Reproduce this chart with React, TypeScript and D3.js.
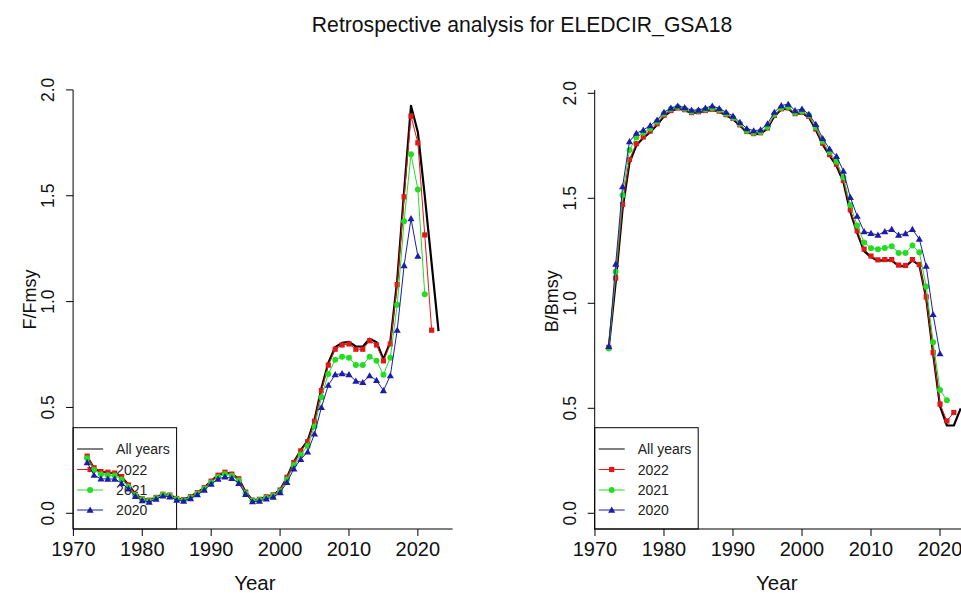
import React from "react";
import * as d3 from "d3";

const yearsAll = [1972,1973,1974,1975,1976,1977,1978,1979,1980,1981,1982,1983,1984,1985,1986,1987,1988,1989,1990,1991,1992,1993,1994,1995,1996,1997,1998,1999,2000,2001,2002,2003,2004,2005,2006,2007,2008,2009,2010,2011,2012,2013,2014,2015,2016,2017,2018,2019,2020,2021,2022,2023];

// F/Fmsy
const fAll = [0.268,0.212,0.196,0.193,0.189,0.172,0.135,0.09,0.068,0.062,0.075,0.09,0.086,0.07,0.065,0.079,0.098,0.121,0.152,0.18,0.194,0.185,0.163,0.1,0.062,0.066,0.078,0.087,0.11,0.17,0.242,0.298,0.342,0.442,0.59,0.71,0.785,0.805,0.81,0.788,0.787,0.825,0.808,0.728,0.81,1.1,1.52,1.925,1.8,1.5,1.18,0.86];
const f2022 = [0.27,0.215,0.197,0.194,0.19,0.173,0.134,0.09,0.068,0.062,0.075,0.09,0.086,0.07,0.065,0.079,0.098,0.121,0.152,0.18,0.194,0.185,0.163,0.1,0.062,0.066,0.078,0.087,0.11,0.17,0.24,0.295,0.338,0.435,0.58,0.7,0.775,0.795,0.8,0.775,0.775,0.815,0.795,0.72,0.8,1.08,1.495,1.876,1.75,1.315,0.865];
const f2021 = [0.26,0.205,0.185,0.18,0.178,0.16,0.125,0.085,0.065,0.058,0.072,0.087,0.083,0.067,0.062,0.075,0.094,0.116,0.146,0.172,0.186,0.177,0.155,0.095,0.06,0.063,0.074,0.083,0.104,0.16,0.228,0.278,0.318,0.41,0.548,0.658,0.725,0.74,0.735,0.7,0.7,0.74,0.72,0.655,0.735,0.985,1.38,1.696,1.53,1.035];
const f2020 = [0.24,0.18,0.163,0.162,0.162,0.142,0.115,0.08,0.06,0.053,0.067,0.082,0.078,0.062,0.058,0.07,0.088,0.11,0.138,0.162,0.172,0.165,0.142,0.09,0.055,0.058,0.068,0.077,0.098,0.146,0.21,0.255,0.29,0.375,0.5,0.605,0.655,0.66,0.655,0.625,0.618,0.65,0.628,0.58,0.65,0.865,1.17,1.392,1.215];

// B/Bmsy
const bAll = [0.79,1.1,1.45,1.67,1.752,1.788,1.815,1.85,1.89,1.915,1.928,1.92,1.905,1.91,1.915,1.922,1.912,1.895,1.877,1.847,1.815,1.805,1.808,1.832,1.892,1.923,1.927,1.9,1.907,1.886,1.826,1.757,1.703,1.655,1.578,1.435,1.335,1.248,1.22,1.203,1.204,1.204,1.178,1.176,1.204,1.182,1.025,0.76,0.51,0.418,0.418,0.5];
const b2022 = [0.79,1.12,1.47,1.685,1.76,1.792,1.82,1.855,1.895,1.918,1.93,1.922,1.908,1.912,1.918,1.924,1.915,1.898,1.88,1.85,1.818,1.808,1.812,1.835,1.895,1.926,1.93,1.903,1.91,1.89,1.83,1.762,1.708,1.662,1.585,1.445,1.345,1.258,1.225,1.207,1.208,1.208,1.182,1.18,1.208,1.185,1.03,0.765,0.52,0.44,0.48];
const b2021 = [0.785,1.15,1.515,1.73,1.79,1.812,1.832,1.865,1.903,1.925,1.935,1.927,1.913,1.917,1.923,1.93,1.92,1.903,1.884,1.855,1.822,1.812,1.816,1.84,1.9,1.93,1.935,1.907,1.915,1.895,1.838,1.772,1.72,1.675,1.6,1.468,1.37,1.29,1.262,1.257,1.263,1.272,1.24,1.24,1.275,1.243,1.08,0.815,0.587,0.538];
const b2020 = [0.795,1.187,1.556,1.77,1.81,1.825,1.846,1.873,1.91,1.93,1.94,1.932,1.92,1.92,1.93,1.94,1.928,1.91,1.892,1.862,1.832,1.822,1.826,1.855,1.91,1.942,1.948,1.918,1.925,1.9,1.852,1.785,1.735,1.7,1.63,1.505,1.415,1.342,1.333,1.325,1.342,1.352,1.325,1.332,1.352,1.306,1.177,0.947,0.76];

const xTicks = [1970,1980,1990,2000,2010,2020];
const yTicks = [0,0.5,1,1.5,2];
const yTickLabels = ["0.0","0.5","1.0","1.5","2.0"];
const legendLabels = ["All years","2022","2021","2020"];
const seriesColors = ["#000000","#e01818","#22dd22","#1c1ca8"];
const seriesMarkers = ["none","square","circle","triangle"];

const FONT = "'Liberation Sans', Arial, Helvetica, sans-serif";

type PanelProps = {
  left: number;
  right: number;
  yDomain: [number, number];
  ylabel: string;
  data: number[][];
};

const TOP = 90;
const BOTTOM = 529;

function Marker({ kind, x, y, color }: { kind: string; x: number; y: number; color: string }) {
  if (kind === "square") {
    return <rect x={x - 2.6} y={y - 2.6} width={5.2} height={5.2} fill={color} />;
  }
  if (kind === "circle") {
    return <circle cx={x} cy={y} r={3} fill={color} />;
  }
  if (kind === "triangle") {
    const s = d3.symbol().type(d3.symbolTriangle).size(22)();
    return <path d={s || ""} transform={`translate(${x},${y + 0.6})`} fill={color} />;
  }
  return null;
}

function Panel({ left, right, yDomain, ylabel, data }: PanelProps) {
  const x = d3.scaleLinear().domain([1969.96, 2025.04]).range([left, right]);
  const y = d3.scaleLinear().domain(yDomain).range([BOTTOM, TOP]);
  const line = d3
    .line<number>()
    .x((_, i) => x(yearsAll[i]))
    .y((d) => y(d));

  const legX = left;
  const legTop = 427.7;
  const legW = 103.5;
  const rowY = [449, 469.5, 490, 510];

  return (
    <g>
      {/* legend box (transparent) */}
      <rect x={legX} y={legTop} width={legW} height={BOTTOM - legTop} fill="none" stroke="#000" strokeWidth={1} />
      {legendLabels.map((lab, i) => (
        <g key={lab}>
          <line x1={legX + 4} x2={legX + 30} y1={rowY[i]} y2={rowY[i]} stroke={seriesColors[i]} strokeWidth={1} />
          <Marker kind={seriesMarkers[i]} x={legX + 17} y={rowY[i]} color={seriesColors[i]} />
          <text x={legX + 43} y={rowY[i] + 5} fontSize={14} fontFamily={FONT} fill="#222">
            {lab}
          </text>
        </g>
      ))}

      {/* series lines */}
      {data.map((vals, si) => (
        <g key={si}>
          <path
            d={line(vals) || ""}
            fill="none"
            stroke={seriesColors[si]}
            strokeWidth={si === 0 ? 2.2 : 1}
            strokeLinejoin="round"
          />
          {seriesMarkers[si] !== "none" &&
            vals.map((v, i) => (
              <Marker key={i} kind={seriesMarkers[si]} x={x(yearsAll[i])} y={y(v)} color={seriesColors[si]} />
            ))}
        </g>
      ))}

      {/* axes: L box */}
      <line x1={left} x2={left} y1={TOP} y2={BOTTOM} stroke="#000" strokeWidth={1} />
      <line x1={left} x2={right} y1={BOTTOM} y2={BOTTOM} stroke="#000" strokeWidth={1} />

      {xTicks.map((t) => (
        <g key={t}>
          <line x1={x(t)} x2={x(t)} y1={BOTTOM} y2={BOTTOM + 7} stroke="#000" />
          <text x={x(t)} y={556} textAnchor="middle" fontSize={20} fontFamily={FONT} fill="#111">
            {t}
          </text>
        </g>
      ))}
      {yTicks.map((t, i) => (
        <g key={t}>
          <line x1={left - 7} x2={left} y1={y(t)} y2={y(t)} stroke="#000" />
          <text
            transform={`translate(${left - 19},${y(t)}) rotate(-90)`}
            textAnchor="middle"
            fontSize={17.5}
            fontFamily={FONT}
            fill="#111"
          >
            {yTickLabels[i]}
          </text>
        </g>
      ))}
      <text x={(left + right) / 2 - 8} y={590} textAnchor="middle" fontSize={20.5} fontFamily={FONT} fill="#111">
        Year
      </text>
      <text
        transform={`translate(${left - 37},${y(1.01)}) rotate(-90)`}
        textAnchor="middle"
        fontSize={18}
        fontFamily={FONT}
        fill="#111"
      >
        {ylabel}
      </text>
    </g>
  );
}

export default function App() {
  return (
    <div style={{ position: "absolute", left: 0, top: 0 }}>
      <svg width={961} height={593} style={{ display: "block", background: "#fff" }}>
        <rect x={0} y={0} width={961} height={593} fill="#fff" />
        <text x={522} y={31.5} textAnchor="middle" fontSize={21.2} fontFamily={FONT} fill="#111">
          Retrospective analysis for ELEDCIR_GSA18
        </text>
        <Panel left={73.1} right={452.6} yDomain={[-0.0742, 1.9995]} ylabel="F/Fmsy" data={[fAll, f2022, f2021, f2020]} />
        <Panel left={594.7} right={974.8} yDomain={[-0.0748, 2.0157]} ylabel="B/Bmsy" data={[bAll, b2022, b2021, b2020]} />
      </svg>
    </div>
  );
}
